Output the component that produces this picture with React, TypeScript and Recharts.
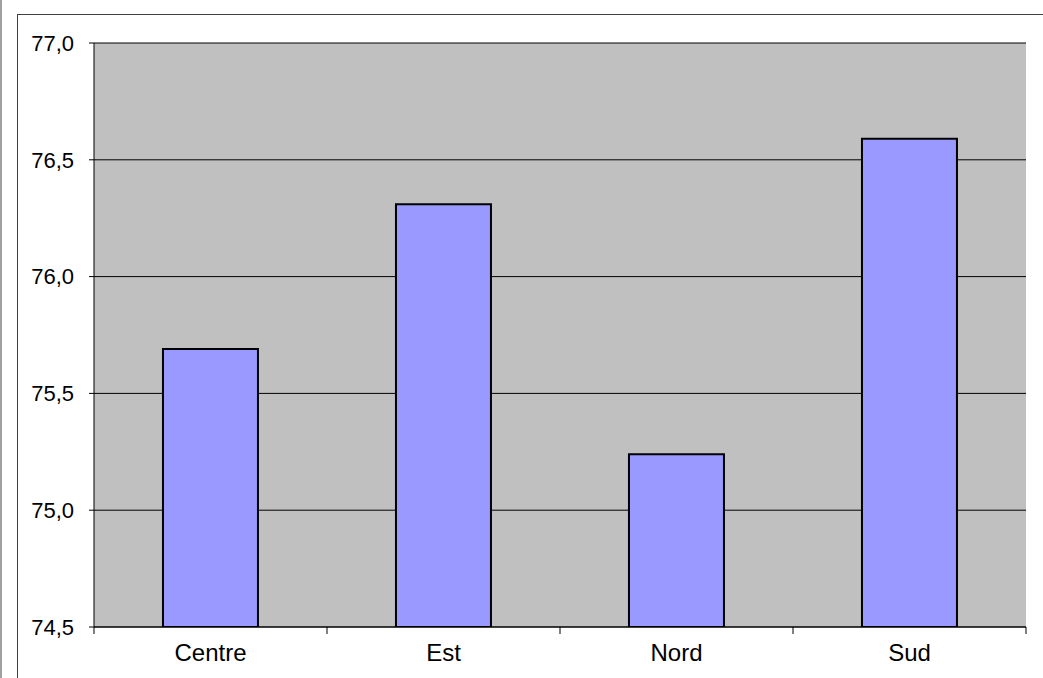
import {
  BarChart,
  Bar,
  XAxis,
  YAxis,
  CartesianGrid,
} from "recharts";

const regions = ["Centre", "Est", "Nord", "Sud"];
const values = [75.69, 76.31, 75.24, 76.59];
const yTicks = [74.5, 75, 75.5, 76, 76.5, 77];
// category edges (tick marks) and centres (labels) on a 0..4 scale
const xTicks = [0, 0.5, 1, 1.5, 2, 2.5, 3, 3.5, 4];

const data = regions.map((name, i) => ({ name, pos: i + 0.5, value: values[i] }));

const fmt = (v: number) => v.toFixed(1).replace(".", ",");

const font = "'Liberation Sans', Arial, sans-serif";

function XTick(props: any) {
  const { x, y, payload } = props;
  const v = payload.value as number;
  if (Number.isInteger(v)) {
    return <line x1={x} y1={y} x2={x} y2={y + 7} stroke="#000" />;
  }
  return (
    <text
      x={x}
      y={y + 17}
      dy="0.71em"
      textAnchor="middle"
      fill="#000"
      fontSize={24}
      fontFamily={font}
    >
      {regions[Math.floor(v)]}
    </text>
  );
}

export default function App() {
  return (
    <div
      style={{
        position: "fixed",
        left: 0,
        top: 0,
        width: 1043,
        height: 678,
        background: "#fff",
        overflow: "hidden",
        fontFamily: font,
      }}
    >
      <div
        style={{
          position: "absolute",
          left: 0,
          top: 0,
          width: 2,
          height: 678,
          background: "#a0a0a0",
        }}
      />
      <div
        style={{
          position: "absolute",
          left: 17,
          top: 14,
          width: 1100,
          height: 800,
          border: "1px solid #404040",
        }}
      />
      <div style={{ position: "absolute", left: 0, top: 0 }}>
        <BarChart
          width={1043}
          height={678}
          data={data}
          margin={{ top: 43, right: 17, bottom: 0, left: 0 }}
          barCategoryGap="29.6%"
        >
          <CartesianGrid
            vertical={false}
            fill="#C0C0C0"
            stroke="#000"
            strokeWidth={1}
          />
          <XAxis dataKey="name" hide height={0} />
          <XAxis
            xAxisId="lab"
            dataKey="pos"
            type="number"
            domain={[0, 4]}
            ticks={xTicks}
            interval={0}
            tick={<XTick />}
            tickLine={false}
            tickSize={0}
            tickMargin={0}
            axisLine={{ stroke: "#000" }}
            height={51}
            allowDataOverflow
          />
          <XAxis
            xAxisId="top"
            dataKey="name"
            orientation="top"
            tick={false}
            tickLine={false}
            axisLine={{ stroke: "#808080", strokeWidth: 2 }}
            height={0}
          />
          <YAxis
            domain={[74.5, 77]}
            ticks={yTicks}
            tickFormatter={fmt}
            width={94}
            tickSize={5}
            tickMargin={15}
            tickLine={{ stroke: "#000" }}
            axisLine={{ stroke: "#000" }}
            tick={{ fill: "#000", fontSize: 22, fontFamily: font }}
            allowDataOverflow
          />
          <YAxis
            yAxisId="right"
            orientation="right"
            domain={[74.5, 77]}
            tick={false}
            tickLine={false}
            axisLine={{ stroke: "#808080", strokeWidth: 2 }}
            width={0}
          />
          <Bar
            dataKey="value"
            fill="#9999FF"
            stroke="#000"
            strokeWidth={2}
            isAnimationActive={false}
          />
        </BarChart>
      </div>
    </div>
  );
}
